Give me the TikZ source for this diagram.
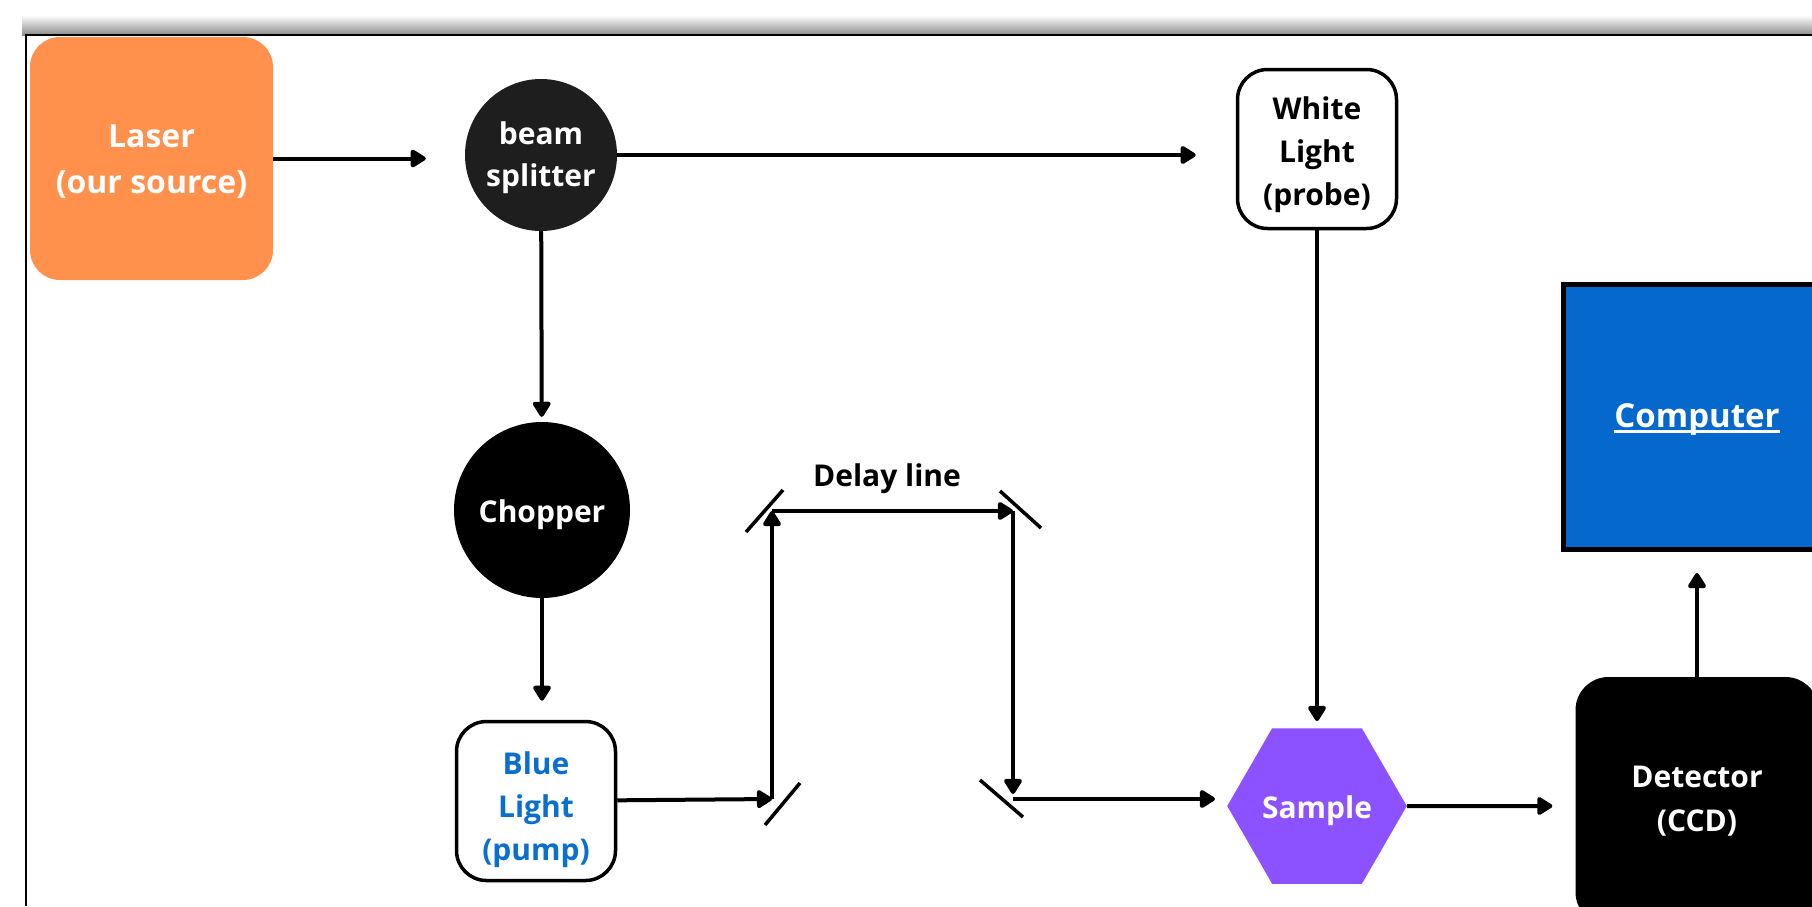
\documentclass[tikz,border=0pt]{standalone}
\usepackage{fontspec}
\setmainfont{Open Sans}
\usetikzlibrary{shapes.geometric,arrows.meta}

\definecolor{laserorange}{HTML}{FF914D}
\definecolor{splitgray}{HTML}{1E1E1E}
\definecolor{samplepurple}{HTML}{8C52FF}
\definecolor{pcblue}{HTML}{0468CC}
\definecolor{pumpblue}{HTML}{0B6FD0}

% invisible strut on a first line: pushes a centred label down by #1
\newcommand{\dropby}[1]{\rule{0pt}{\dimexpr 23pt+2\dimexpr #1\relax\relax}}

\begin{document}
\begin{tikzpicture}[x=1pt,y=-1pt,
  lbl/.style={font=\fontsize{30}{43}\selectfont\bfseries, align=center, inner sep=0pt},
  outlinebox/.style={lbl, draw=black, line width=3.5pt, fill=white,
    rounded corners=30pt, minimum width=159pt, minimum height=159pt},
  disc/.style={lbl, circle, text=white},
  arr/.style={line width=4pt, -{Triangle[length=17pt,width=20pt,round]}},
  mirror/.style={line width=3.5pt}
]
\useasboundingbox (0,0) rectangle (1812,906);
\fill[white] (0,0) rectangle (1812,906);

% frame with its soft shadow along the top edge
\shade[top color=white, bottom color=black!45] (22,15) rectangle (1812,35);
\draw[line width=2.5pt] (26,906) |- (1812,35);

% components
\node[lbl, fill=laserorange, rounded corners=30pt, minimum width=243pt,
      minimum height=243pt, text=white, font=\fontsize{32}{46}\selectfont\bfseries]
      (laser) at (151.5,158.5) {\dropby{3pt}Laser\\(our source)};
\node[disc, fill=splitgray, minimum size=152pt, font=\fontsize{30}{42}\selectfont\bfseries]
      (bs) at (541,155) {\dropby{3pt}beam\\splitter};
\node[disc, fill=black, minimum size=176pt] (chop) at (542,510) {\dropby{5pt}Chopper};
\node[outlinebox, text=pumpblue] (blue) at (536,801) {\dropby{9pt}Blue\\Light\\(pump)};
\node[outlinebox, text=black] (wl) at (1317,149) {\dropby{6pt}White\\Light\\(probe)};
\node[lbl, regular polygon, regular polygon sides=6, minimum size=176pt,
      fill=samplepurple, text=white] (sample) at (1317,806) {\dropby{5pt}Sample};
\node[lbl, fill=black, rounded corners=33pt, minimum width=243pt,
      minimum height=248pt, text=white, font=\fontsize{30}{44}\selectfont\bfseries]
      (det) at (1697,801) {Detector\\(CCD)};
\node[draw=black, line width=5pt, fill=pcblue, minimum width=267pt,
      minimum height=265pt] (pc) at (1697,417) {};
\node[lbl, text=white, font=\fontsize{33}{40}\selectfont\bfseries]
      (pctxt) at (pc.center) {\dropby{3pt}Computer};
\draw[white, line width=2.2pt] ([yshift=-4pt]pctxt.base west) -- ([yshift=-4pt]pctxt.base east);

\node[lbl] (delay) at (887,477) {\dropby{2pt}Delay line};

% delay-line mirrors
\draw[mirror] (765,825) -- (800,783);
\draw[mirror] (746,532) -- (783,490);
\draw[mirror] (1000,491) -- (1041,528);
\draw[mirror] (980,780) -- (1023,817);

% beam turning points at the mirrors
\coordinate (p1) at (772,799);
\coordinate (p2) at (772,511);
\coordinate (p3) at (1013,511);
\coordinate (p4) at (1013,799);

% beam paths
\draw[arr, shorten >=39pt] (laser) -- (laser -| bs.west);
\draw[arr, shorten >=40pt] (bs) -- (bs -| wl.west);
\draw[arr, shorten >=5pt] (bs) -- (chop);
\draw[arr, shorten >=19pt] (chop) -- (chop |- blue.north);
\draw[arr] (blue) -- (p1);
\draw[arr] (p1) -- (p2);
\draw[arr] (p2) -- (p3);
\draw[arr, shorten >=5pt] (p3) -- (p4);
\draw[arr, shorten >=12pt] (p4) -- (p4 -| sample.west);
\draw[arr, shorten >=7pt] (wl) -- (sample);
\draw[arr, shorten >=23pt] (sample) -- (sample -| det.west);
\draw[arr, shorten >=21pt] (det) -- (pc);
\end{tikzpicture}
\end{document}
